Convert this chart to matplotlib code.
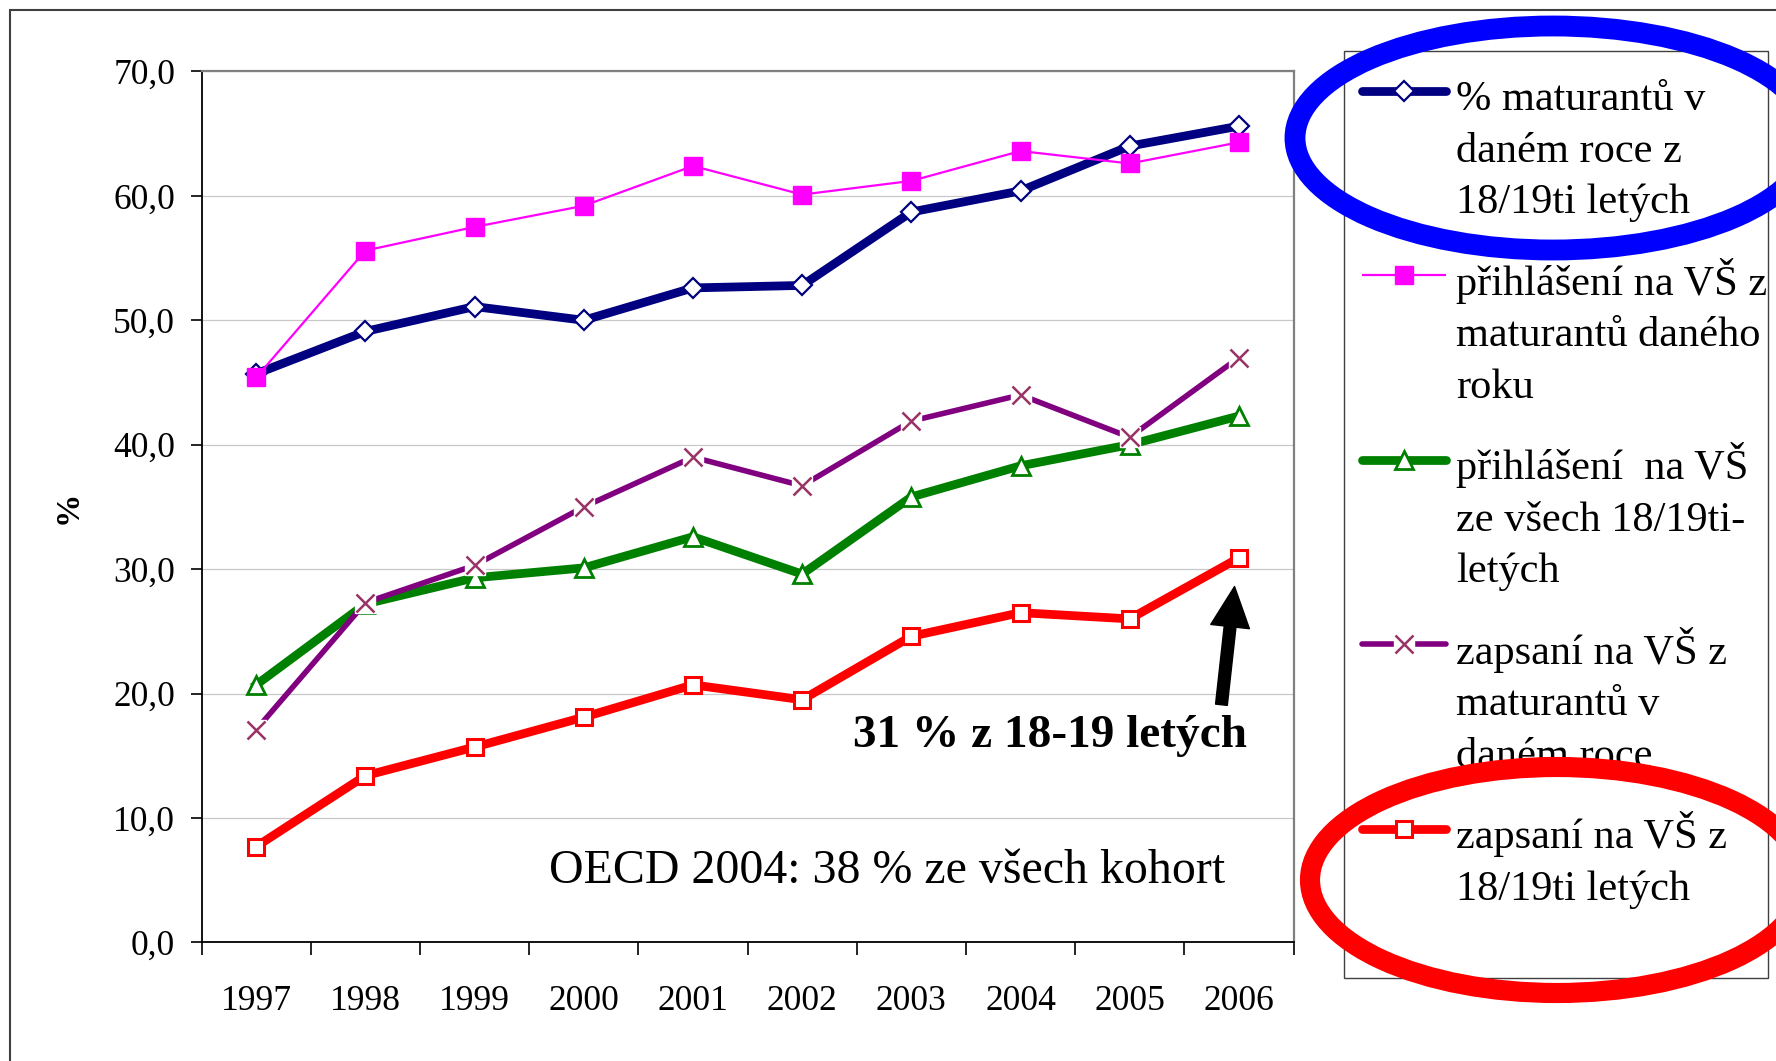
import matplotlib
matplotlib.use("Agg")
import matplotlib.pyplot as plt
import numpy as np
from matplotlib.lines import Line2D
from matplotlib.patches import Ellipse, Rectangle

W, H = 1776, 1061

years = ["1997", "1998", "1999", "2000", "2001", "2002", "2003", "2004", "2005", "2006"]
y_ticks = [0, 10, 20, 30, 40, 50, 60, 70]
y_tick_labels = ["0,0", "10,0", "20,0", "30,0", "40,0", "50,0", "60,0", "70,0"]

maturanti = [45.7, 49.1, 51.1, 50.0, 52.6, 52.8, 58.7, 60.4, 64.0, 65.6]
prihlaseni_z_mat = [45.4, 55.6, 57.5, 59.2, 62.4, 60.1, 61.2, 63.6, 62.6, 64.3]
prihlaseni_vse = [20.7, 27.2, 29.3, 30.1, 32.6, 29.6, 35.8, 38.3, 40.0, 42.3]
zapsani_z_mat = [17.1, 27.3, 30.3, 35.0, 39.0, 36.7, 41.9, 44.0, 40.6, 47.0]
zapsani_vse = [7.7, 13.4, 15.7, 18.1, 20.7, 19.5, 24.6, 26.5, 26.0, 30.9]

labels = [
    ["% maturantů v", "daném roce z", "18/19ti letých"],
    ["přihlášení na VŠ z", "maturantů daného", "roku"],
    ["přihlášení  na VŠ", "ze všech 18/19ti-", "letých"],
    ["zapsaní na VŠ z", "maturantů v", "daném roce"],
    ["zapsaní na VŠ z", "18/19ti letých"],
]

# line / marker styles per series (navy, magenta, green, purple, red)
styles = [
    dict(color="#000080", lw=6.3, marker="D", ms=10.5, mfc="white", mec="#000080", mew=1.6),
    dict(color="#FF00FF", lw=1.6, marker="s", ms=12.5, mfc="#FF00FF", mec="#FF00FF", mew=1),
    dict(color="#008000", lw=6.3, marker="^", ms=13, mfc="white", mec="#008000", mew=2),
    dict(color="#800080", lw=4, marker="x", ms=12.5, mfc="none", mec="#993366", mew=1.8),
    dict(color="#FF0000", lw=6.3, marker="s", ms=12, mfc="white", mec="#FF0000", mew=2.2),
]
series = [maturanti, prihlaseni_z_mat, prihlaseni_vse, zapsani_z_mat, zapsani_vse]

plt.rcParams["font.family"] = ["Liberation Serif", "DejaVu Serif"]

fig = plt.figure(figsize=(W / 100, H / 100), dpi=100)
fig.patch.set_facecolor("white")


def fx(x):
    return x / W


def fy(y):
    return 1 - y / H


left, right, top, bottom = 201.6, 1293.5, 71.4, 942.4
ax = fig.add_axes([fx(left), fy(bottom), (right - left) / W, (bottom - top) / H])

x = np.arange(len(years))
for i, (vals, st) in enumerate(zip(series, styles)):
    z = 3 + i
    ax.plot(x, vals, color=st["color"], lw=st["lw"], zorder=z, solid_joinstyle="miter")
    if st["marker"] == "x":
        # Excel draws the x marker over a white box
        ax.plot(x, vals, ls="none", marker="s", ms=14.5, mfc="white", mec="white", zorder=z)
    ax.plot(x, vals, ls="none", marker=st["marker"], ms=st["ms"], mfc=st["mfc"],
            mec=st["mec"], mew=st["mew"], zorder=z)

ax.set_xlim(-0.5, len(years) - 0.5)
ax.set_ylim(0, 70)
ax.set_xticks(x)
ax.set_xticklabels(years)
ax.set_xticks(np.arange(-0.5, len(years)), minor=True)
ax.tick_params(axis="x", which="major", length=0, pad=31, labelsize=25.5)
ax.tick_params(axis="x", which="minor", length=9, width=1.2, direction="out", color="black")
ax.set_yticks(y_ticks)
ax.set_yticklabels(y_tick_labels)
ax.tick_params(axis="y", length=8, width=1.2, direction="out", pad=11, labelsize=25.5)
ax.grid(axis="y", color="#C8C8C8", lw=0.9)
ax.set_axisbelow(True)

for side in ("top", "right"):
    ax.spines[side].set_color("#808080")
    ax.spines[side].set_linewidth(1.6)
for side in ("left", "bottom"):
    ax.spines[side].set_color("black")
    ax.spines[side].set_linewidth(1.3)

ax.set_ylabel("%", fontsize=24, fontweight="bold")
ax.yaxis.set_label_coords((84 - left) / (right - left), 0.5)

ax.text((549 - left) / (right - left), (bottom - 883) / (bottom - top),
        "OECD 2004: 38 % ze všech kohort", transform=ax.transAxes,
        fontsize=34.5, va="baseline", ha="left")
ax.text((853 - left) / (right - left), (bottom - 747) / (bottom - top),
        "31 % z 18-19 letých", transform=ax.transAxes,
        fontsize=34, fontweight="bold", va="baseline", ha="left")
ax.annotate("", xy=(8.96, 28.6), xytext=(8.84, 19.1),
            arrowprops=dict(arrowstyle="simple,head_length=2.9,head_width=2.8,tail_width=0.85",
                            mutation_scale=10, color="black", shrinkA=0, shrinkB=0))

# outer frame (only top and left edges visible)
fig.add_artist(Rectangle((fx(10), -0.2), 1.5, fy(10) + 0.2, transform=fig.transFigure,
                         fill=False, edgecolor="#404040", lw=1.5, zorder=0.5))

# legend
fig.add_artist(Rectangle((fx(1344), fy(978)), (1768 - 1344) / W, (978 - 51) / H,
                         transform=fig.transFigure, fill=False, edgecolor="#404040",
                         lw=1.0, zorder=1))
for i, (lab, st) in enumerate(zip(labels, styles)):
    base = 110 + i * 184.6
    hy = fy(base - 19.5)
    fig.add_artist(Line2D([fx(1362), fx(1446)], [hy, hy], transform=fig.transFigure,
                          color=st["color"], lw=st["lw"], zorder=2,
                          solid_capstyle="round" if st["lw"] > 2 else "butt"))
    if st["marker"] == "x":
        fig.add_artist(Line2D([fx(1404)], [hy], transform=fig.transFigure, ls="none",
                              marker="s", ms=15, mfc="white", mec="white", zorder=2))
    fig.add_artist(Line2D([fx(1404)], [hy], transform=fig.transFigure, ls="none",
                          marker=st["marker"], ms=st["ms"], mfc=st["mfc"], mec=st["mec"],
                          mew=st["mew"], zorder=2))
    for j, line in enumerate(lab):
        fig.text(fx(1456), fy(base + j * 51.6), line, fontsize=30.5,
                 va="baseline", ha="left", zorder=3)

# highlight ellipses
fig.add_artist(Ellipse((fx(1553), fy(138)), 516 / W, 224 / H, transform=fig.transFigure,
                       fill=False, edgecolor="#0000FF", lw=15, zorder=10))
fig.add_artist(Ellipse((fx(1557), fy(880)), 494 / W, 226 / H, transform=fig.transFigure,
                       fill=False, edgecolor="#FF0000", lw=14.5, zorder=10))

fig.savefig("out.png", dpi=100)
